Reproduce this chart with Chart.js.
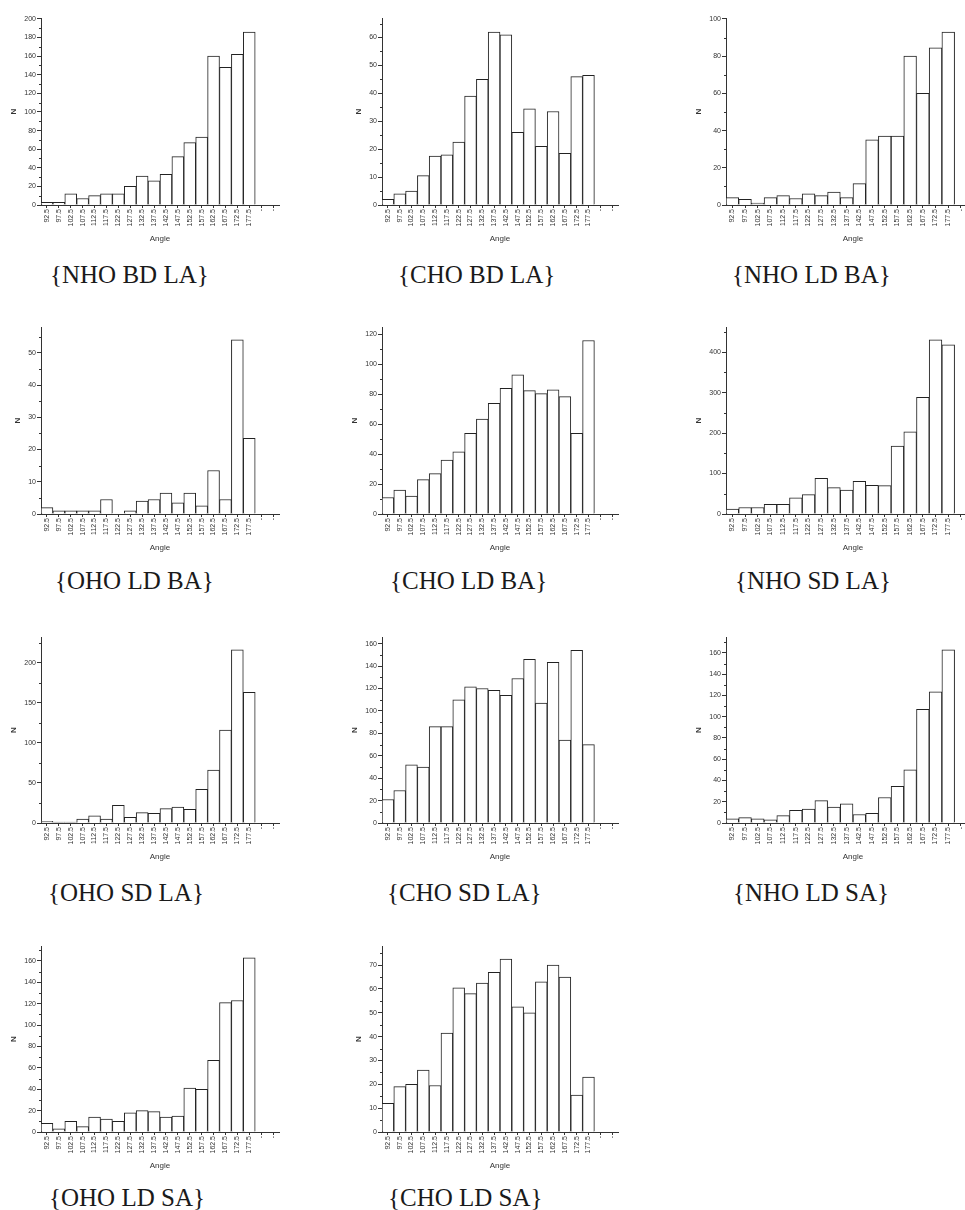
<!DOCTYPE html>
<html>
<head>
<meta charset="utf-8">
<script src="https://cdn.jsdelivr.net/npm/chart.js@4.4.0/dist/chart.umd.min.js"></script>
<style>
html, body { margin: 0; padding: 0; background: #fff; overflow: hidden; }
#page { position: relative; width: 965px; height: 1210px; overflow: hidden; }
#page canvas { position: absolute; }
.cap { position: absolute; font-family: "Liberation Serif", "Times New Roman", serif; font-size: 25px; line-height: 25px; color: #1a1a1a; white-space: nowrap; }
</style>
</head>
<body>
<div id="page"></div>
<script>
// bin centres, plus two empty bins Origin leaves at the end
const angles = ["92.5", "97.5", "102.5", "107.5", "112.5", "117.5", "122.5", "127.5", "132.5",
                "137.5", "142.5", "147.5", "152.5", "157.5", "162.5", "167.5", "172.5", "177.5", "-", "-"];

const nhoBdLa = [3, 3, 12, 7, 10, 12, 12, 20, 31, 26, 33, 52, 67, 73, 160, 148, 162, 186];
const choBdLa = [2, 4, 5, 10.5, 17.5, 18, 22.5, 39, 45, 62, 61, 26, 34.5, 21, 33.5, 18.5, 46, 46.5];
const nhoLdBa = [4, 3, 1, 4, 5, 3.5, 6, 5, 7, 4, 11.5, 35, 37, 37, 80, 60, 84.5, 93];
const ohoLdBa = [2, 1, 1, 1, 1, 4.5, 0, 1, 4, 4.5, 6.5, 3.5, 6.5, 2.5, 13.5, 4.5, 54, 23.5];
const choLdBa = [11, 16, 12, 23, 27, 36, 41.5, 54, 63.5, 74, 84, 93, 82.5, 80.5, 83, 78.5, 54, 116];
const nhoSdLa = [12, 16, 16, 24, 24, 40, 48, 88, 65, 59, 81, 71, 70, 168, 203, 288, 430, 418];
const ohoSdLa = [2, 1, 1, 5, 9, 5, 22, 7, 13, 12, 18, 20, 17, 42, 66, 116, 216, 163];
const choSdLa = [21, 29, 52, 50, 86, 86, 110, 121.5, 120, 118.5, 114, 129, 146, 107, 143.5, 74, 154, 70];
const nhoLdSa = [4, 5, 4, 3, 7, 12, 13, 21, 15, 18, 8, 9, 24, 34.5, 50, 107, 123.5, 163];
const ohoLdSa = [8, 3, 10, 5, 14, 12, 10, 18, 20, 19, 14, 15, 41, 40, 67, 121, 123, 163];
const choLdSa = [12, 19, 20, 26, 19.5, 41.5, 60.5, 58, 62.5, 67, 72.5, 52.5, 50, 63, 70, 65, 15.5, 23];

// y axis range and major step for each panel
const panelNames = ["{NHO BD LA}", "{CHO BD LA}", "{NHO LD BA}",
                    "{OHO LD BA}", "{CHO LD BA}", "{NHO SD LA}",
                    "{OHO SD LA}", "{CHO SD LA}", "{NHO LD SA}",
                    "{OHO LD SA}", "{CHO LD SA}"];
const panelData = [nhoBdLa, choBdLa, nhoLdBa, ohoLdBa, choLdBa, nhoSdLa, ohoSdLa, choSdLa, nhoLdSa, ohoLdSa, choLdSa];
const yMax = [201, 67, 100.5, 58, 125, 462, 232, 166, 175, 174, 78];
const yStep = [20, 10, 20, 10, 20, 100, 50, 20, 20, 20, 10];

// page layout
const cols = [{ x: 41, bw: 11.9 }, { x: 382, bw: 11.8 }, { x: 726, bw: 12.7 }];
const rows = [{ top: 18, bottom: 205, cap: 283 }, { top: 327, bottom: 514, cap: 589 },
              { top: 637, bottom: 823, cap: 901 }, { top: 946, bottom: 1132, cap: 1206 }];
const capLeft = [50, 398, 732, 55, 390, 735, 48, 387, 733, 49, 388];

const AXIS = "#333";

const minorTicks = {
    id: "minorTicks",
    afterDraw(chart, args, opts)
    {
        const { ctx, scales: { y } } = chart;
        const half = opts.step / 2;
        ctx.save();
        ctx.strokeStyle = AXIS;
        ctx.lineWidth = 1;
        ctx.beginPath();
        for (let v = half; v <= y.max; v += opts.step)
        {
            const py = Math.round(y.getPixelForValue(v)) + 0.5;
            ctx.moveTo(y.right - 2, py);
            ctx.lineTo(y.right, py);
        }
        ctx.stroke();
        ctx.restore();
    }
};

const page = document.getElementById("page");

panelNames.forEach((name, i) =>
{
    const c = cols[i % 3];
    const r = rows[Math.floor(i / 3)];
    const yW = yMax[i] >= 100 ? 32 : 28;
    const padTop = 6, padRight = 6, xH = 39;
    const w = Math.round(yW + 20 * c.bw + padRight);
    const h = padTop + (r.bottom - r.top) + xH;

    const cv = document.createElement("canvas");
    cv.width = w;
    cv.height = h;
    cv.style.left = (c.x - yW) + "px";
    cv.style.top = (r.top - padTop) + "px";
    page.appendChild(cv);

    const step = yStep[i];
    const max = yMax[i];

    new Chart(cv, {
        type: "bar",
        data: {
            labels: angles,
            datasets: [{
                data: panelData[i],
                backgroundColor: "#fff",
                borderColor: "#222",
                borderWidth: 1,
                barPercentage: 1,
                categoryPercentage: 1
            }]
        },
        options: {
            responsive: false,
            animation: false,
            layout: { padding: { top: padTop, right: padRight, left: 0, bottom: 0 } },
            plugins: {
                legend: { display: false },
                tooltip: { enabled: false },
                minorTicks: { step: step }
            },
            scales: {
                x: {
                    grid: { drawOnChartArea: false, offset: false, tickLength: 3, color: AXIS },
                    border: { color: AXIS, width: 1 },
                    ticks: {
                        autoSkip: false, minRotation: 90, maxRotation: 90, padding: 1,
                        color: AXIS, font: { family: "Liberation Sans", size: 7 }
                    },
                    title: {
                        display: true, text: "Angle", color: AXIS, padding: 0,
                        font: { family: "Liberation Sans", size: 8 }
                    },
                    afterFit(scale) { scale.height = xH; }
                },
                y: {
                    min: 0,
                    max: max,
                    grid: { drawOnChartArea: false, tickLength: 4, color: AXIS },
                    border: { color: AXIS, width: 1 },
                    ticks: {
                        padding: 1, color: AXIS,
                        font: { family: "Liberation Sans", size: 7 }
                    },
                    title: {
                        display: true, text: "N", color: AXIS, padding: 0,
                        font: { family: "Liberation Sans", size: 8, weight: "bold" }
                    },
                    afterBuildTicks(scale)
                    {
                        const ticks = [];
                        for (let v = 0; v <= max + 1e-9; v += step) ticks.push({ value: v });
                        scale.ticks = ticks;
                    },
                    afterFit(scale) { scale.width = yW; }
                }
            }
        },
        plugins: [minorTicks]
    });

    const cap = document.createElement("div");
    cap.className = "cap";
    cap.textContent = name;
    cap.style.left = capLeft[i] + "px";
    cap.style.top = (r.cap - 21) + "px";
    page.appendChild(cap);
});
</script>
</body>
</html>
